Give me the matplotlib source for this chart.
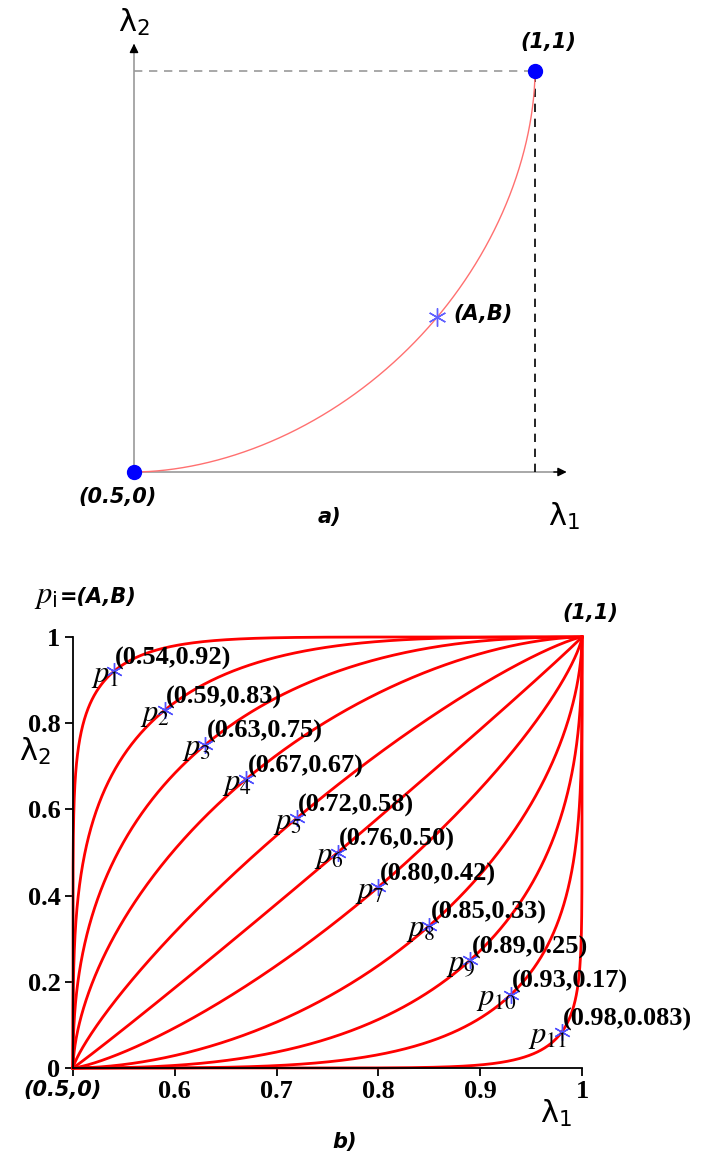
import numpy as np
import matplotlib.pyplot as plt

plt.rcParams['mathtext.fontset'] = 'stix'

# === Panel a): one curve through (A,B) ===
ab_point = (0.878, 0.386)

# === Panel b): points p1..p11 ===
p_x = [0.54, 0.59, 0.63, 0.67, 0.72, 0.76, 0.80, 0.85, 0.89, 0.93, 0.98]
p_y = [0.92, 0.83, 0.75, 0.67, 0.58, 0.50, 0.42, 0.33, 0.25, 0.17, 0.083]
p_text = ["(0.54,0.92)", "(0.59,0.83)", "(0.63,0.75)", "(0.67,0.67)",
          "(0.72,0.58)", "(0.76,0.50)", "(0.80,0.42)", "(0.85,0.33)",
          "(0.89,0.25)", "(0.93,0.17)", "(0.98,0.083)"]
x_ticks = [0.5, 0.6, 0.7, 0.8, 0.9, 1.0]
x_ticklabels = ["", "0.6", "0.7", "0.8", "0.9", "1"]
y_ticks = [0, 0.2, 0.4, 0.6, 0.8, 1.0]
y_ticklabels = ["0", "0.2", "0.4", "0.6", "0.8", "1"]


def curve_through(a, b, num=600):
    """Superellipse arc from (0.5,0) to (1,1) passing through (a,b)."""
    u = (a - 0.5) / 0.5
    v = b
    up = v >= u
    if up:
        g = lambda n: (1 - u) ** n + v ** n - 1
    else:
        g = lambda n: u ** n + (1 - v) ** n - 1
    lo, hi = 0.3, 80.0
    for _ in range(80):
        mid = 0.5 * (lo + hi)
        if g(mid) > 0:
            lo = mid
        else:
            hi = mid
    n = 0.5 * (lo + hi)
    th = np.linspace(0, np.pi / 2, num)
    c = np.abs(np.cos(th)) ** (2 / n)
    s = np.abs(np.sin(th)) ** (2 / n)
    if up:
        xs, ys = 1 - c, s
    else:
        xs, ys = s, 1 - c
    return 0.5 + 0.5 * xs, ys


W, H = 704, 1157
fig = plt.figure(figsize=(W / 100, H / 100), dpi=100)

star = (6, 2, 0)
lab_font = dict(family='DejaVu Sans', weight='bold', style='italic', fontsize=15)
lam_font = dict(family='DejaVu Sans', fontsize=22)
num_font = dict(family='Liberation Serif', weight='bold', fontsize=19)

# === Panel a) ===
ax1 = fig.add_axes([134 / W, (H - 472) / H, 401 / W, 401 / H])
ax1.set_xlim(0.5, 1)
ax1.set_ylim(0, 1)
ax1.axis('off')

ax1.plot([0.5, 1.035], [0, 0], color='#999999', lw=1.2, clip_on=False)
ax1.plot([0.5, 0.5], [0, 1.065], color='#999999', lw=1.2, clip_on=False)
ax1.annotate('', xy=(1.043, 0), xytext=(1.02, 0),
             arrowprops=dict(arrowstyle='-|>', color='black', lw=1, mutation_scale=13),
             annotation_clip=False)
ax1.annotate('', xy=(0.5, 1.075), xytext=(0.5, 1.04),
             arrowprops=dict(arrowstyle='-|>', color='black', lw=1, mutation_scale=13),
             annotation_clip=False)
ax1.plot([0.5, 1], [1, 1], color='#999999', lw=1.2, ls=(0, (5, 4)), clip_on=False)
ax1.plot([1, 1], [0, 1], color='black', lw=1.2, ls=(0, (5, 4)), clip_on=False)

cx, cy = curve_through(*ab_point)
ax1.plot(cx, cy, color='#ff7070', lw=1, clip_on=False)
ax1.plot([0.5, 1], [0, 1], 'o', color='blue', ms=10, clip_on=False, zorder=5)
ax1.plot(*ab_point, marker=star, color='#6060ff', ms=13, mew=1, clip_on=False)
ax1.annotate('(A,B)', ab_point, xytext=(12, 2), textcoords='offset points',
             ha='left', va='center', **lab_font)
ax1.text(1.016, 1.072, '(1,1)', ha='center', va='center', **lab_font)
ax1.text(0.48, -0.062, '(0.5,0)', ha='center', va='center', **lab_font)
ax1.text(0.744, -0.112, 'a)', ha='center', va='center', **lab_font)
ax1.text(1.036, -0.11, 'λ$_\\mathregular{1}$', ha='center', va='center', **lam_font)
ax1.text(0.5, 1.122, 'λ$_\\mathregular{2}$', ha='center', va='center', **lam_font)

# === Panel b) ===
ax2 = fig.add_axes([73 / W, (H - 1068) / H, 509 / W, 431 / H])
ax2.set_xlim(0.5, 1)
ax2.set_ylim(0, 1)
for side in ['top', 'right']:
    ax2.spines[side].set_visible(False)
for side in ['left', 'bottom']:
    ax2.spines[side].set_linewidth(1.3)
ax2.tick_params(direction='out', length=6, width=1.3, pad=3)
ax2.set_xticks(x_ticks)
ax2.set_xticklabels(x_ticklabels, **num_font)
ax2.set_yticks(y_ticks)
ax2.set_yticklabels(y_ticklabels, **num_font)

for i, (a, b) in enumerate(zip(p_x, p_y)):
    cx, cy = curve_through(a, b)
    ax2.plot(cx, cy, color='red', lw=2, clip_on=False, zorder=2)
    ax2.plot(a, b, marker=star, color='#5050ff', ms=12, mew=1, clip_on=False, zorder=3)
    ax2.annotate(p_text[i], (a, b), xytext=(1, 1), textcoords='offset points',
                 ha='left', va='bottom', **num_font)
    ax2.annotate('$p_{%d}$' % (i + 1), (a, b), xytext=(4, -3), textcoords='offset points',
                 ha='right', va='center', fontsize=22)

ax2.text(0.462, 1.093, '$p_{\\mathregular{i}}$', ha='left', va='center', fontsize=22)
ax2.text(0.487, 1.093, '=(A,B)', ha='left', va='center', **lab_font)
ax2.text(1.008, 1.056, '(1,1)', ha='center', va='center', **lab_font)
ax2.text(0.49, -0.051, '(0.5,0)', ha='center', va='center', **lab_font)
ax2.text(0.975, -0.105, 'λ$_\\mathregular{1}$', ha='center', va='center', **lam_font)
ax2.text(0.463, 0.735, 'λ$_\\mathregular{2}$', ha='center', va='center', **lam_font)
ax2.text(0.767, -0.172, 'b)', ha='center', va='center', **lab_font)

plt.savefig('out.png', dpi=100)
